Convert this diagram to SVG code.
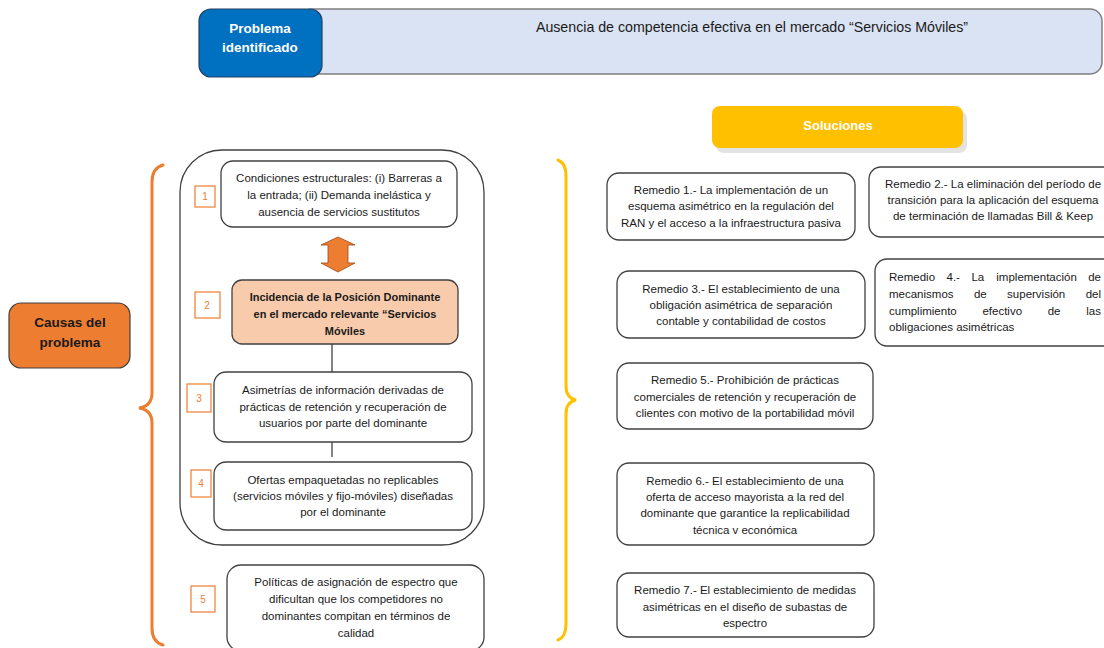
<svg xmlns="http://www.w3.org/2000/svg" width="1104" height="648" viewBox="0 0 1104 648">
<style>
text{font-family:"Liberation Sans",Arial,sans-serif;fill:#1a1a1a}
.t{font-size:11.5px;text-anchor:middle}
.w{font-size:11.5px}
.e{font-size:11.5px;text-anchor:end}
.b{font-weight:bold;font-size:11px}
.box{fill:#fff;stroke:#404040;stroke-width:1.3}
.num{fill:#fff;stroke:#ED7D31;stroke-width:1.2}
.nt{font-size:10px;fill:#ED7D31;text-anchor:middle}
.ln{stroke:#404040;stroke-width:1.3;fill:none}
</style>
<rect width="1104" height="648" fill="#fff"/>

<g id="problem-statement">
<rect x="300" y="9" width="802" height="65" rx="12" fill="#DAE3F3" stroke="#7f7f7f" stroke-width="1.5"/>
<text x="752" y="32" style="font-size:14.2px;text-anchor:middle">Ausencia de competencia efectiva en el mercado “Servicios Móviles”</text>
</g>
<g id="problema-identificado">
<rect x="199" y="9" width="123" height="68" rx="12" fill="#0070C0" stroke="#243f60" stroke-width="1.2"/>
<text x="260" y="33" style="font-weight:bold;font-size:13.5px;text-anchor:middle;fill:#fff">Problema</text>
<text x="260" y="52" style="font-weight:bold;font-size:13.5px;text-anchor:middle;fill:#fff">identificado</text>
</g>

<g id="causas">
<rect x="9" y="303" width="121" height="65" rx="12" fill="#ED7D31" stroke="#404040" stroke-width="1.2"/>
<text x="70" y="327" style="font-weight:bold;font-size:13.5px;text-anchor:middle">Causas del</text>
<text x="70" y="347" style="font-weight:bold;font-size:13.5px;text-anchor:middle">problema</text>
</g>

<g id="braces" fill="none" stroke-width="3" stroke-linecap="round">
<path d="M163,165 Q152,168 152,182 L152,393 Q152,406 139,408 Q152,410 152,423 L152,628 Q152,642 163,645" stroke="#ED7D31"/>
<path d="M558,160 Q566,163 566,176 L566,386 Q566,398 576,400 Q566,402 566,414 L566,624 Q566,637 558,640" stroke="#FFC000"/>
</g>

<g id="causas-container">
<rect x="180" y="150" width="304" height="395" rx="42" class="ln"/>
</g>

<g id="connectors">
<line x1="332" y1="344" x2="332" y2="372" class="ln"/>
<line x1="332" y1="442" x2="332" y2="457" class="ln"/>
<path d="M338,237 L355,245 L348,245 L348,263 L355,263 L338,272 L321,263 L328,263 L328,245 L321,245 Z" fill="#ED7D31" stroke="#9c4a14" stroke-width="0.8"/>
</g>

<g id="causa-1">
<rect x="221" y="161" width="236" height="66" rx="12" class="box"/>
<rect x="195" y="186" width="20" height="21" class="num"/>
<text x="205" y="200" class="nt">1</text>
<text x="339" y="182" class="t">Condiciones estructurales: (i) Barreras a</text>
<text x="339" y="199" class="t">la entrada; (ii) Demanda inelástica y</text>
<text x="339" y="216" class="t">ausencia de servicios sustitutos</text>
</g>

<g id="causa-2">
<rect x="232" y="280" width="226" height="64" rx="10" fill="#F8CBAD" stroke="#404040" stroke-width="1.3"/>
<rect x="195" y="292" width="25" height="26" class="num"/>
<text x="207" y="309" class="nt">2</text>
<text x="345" y="301" class="t b">Incidencia de la Posición Dominante</text>
<text x="345" y="318" class="t b">en el mercado relevante “Servicios</text>
<text x="345" y="335" class="t b">Móviles</text>
</g>

<g id="causa-3">
<rect x="214" y="372" width="258" height="70" rx="12" class="box"/>
<rect x="187" y="384" width="24" height="28" class="num"/>
<text x="199" y="402" class="nt">3</text>
<text x="343" y="394" class="t">Asimetrías de información derivadas de</text>
<text x="343" y="411" class="t">prácticas de retención y recuperación de</text>
<text x="343" y="427" class="t">usuarios por parte del dominante</text>
</g>

<g id="causa-4">
<rect x="214" y="462" width="258" height="68" rx="12" class="box"/>
<rect x="191" y="470" width="20" height="27" class="num"/>
<text x="201" y="487" class="nt">4</text>
<text x="343" y="484" class="t">Ofertas empaquetadas no replicables</text>
<text x="343" y="500" class="t">(servicios móviles y fijo-móviles) diseñadas</text>
<text x="343" y="516" class="t">por el dominante</text>
</g>

<g id="causa-5">
<rect x="227" y="565" width="257" height="86" rx="14" class="box"/>
<rect x="191" y="586" width="24" height="26" class="num"/>
<text x="203" y="603" class="nt">5</text>
<text x="356" y="586" class="t">Políticas de asignación de espectro que</text>
<text x="356" y="603" class="t">dificultan que los competidores no</text>
<text x="356" y="620" class="t">dominantes compitan en términos de</text>
<text x="356" y="637" class="t">calidad</text>
</g>

<g id="soluciones">
<rect x="716" y="111" width="251" height="42" rx="8" fill="#e3e3e3"/>
<rect x="712" y="106" width="251" height="42" rx="8" fill="#FFC000"/>
<text x="838" y="130" style="font-weight:bold;font-size:13px;text-anchor:middle;fill:#fff">Soluciones</text>
</g>

<g id="remedio-1">
<rect x="607" y="173" width="248" height="67" rx="12" class="box"/>
<text x="731" y="194" class="t">Remedio 1.- La implementación de un</text>
<text x="731" y="210" class="t">esquema asimétrico en la regulación del</text>
<text x="731" y="227" class="t">RAN y el acceso a la infraestructura pasiva</text>
</g>

<g id="remedio-2">
<rect x="869" y="167" width="250" height="70" rx="12" class="box"/>
<text x="993" y="188" class="t">Remedio 2.- La eliminación del período de</text>
<text x="993" y="204" class="t">transición para la aplicación del esquema</text>
<text x="993" y="220" class="t">de terminación de llamadas Bill &amp; Keep</text>
</g>

<g id="remedio-3">
<rect x="617" y="271" width="248" height="67" rx="12" class="box"/>
<text x="741" y="293" class="t">Remedio 3.- El establecimiento de una</text>
<text x="741" y="309" class="t">obligación asimétrica de separación</text>
<text x="741" y="325" class="t">contable y contabilidad de costos</text>
</g>

<g id="remedio-4">
<rect x="875" y="259" width="245" height="87" rx="12" class="box"/>
<text x="889" y="281" class="w">Remedio</text>
<text x="946.5" y="281" class="w">4.-</text>
<text x="971.4" y="281" class="w">La</text>
<text x="996.3" y="281" class="w">implementación</text>
<text x="1101" y="281" class="e">de</text>
<text x="889" y="298" class="w">mecanismos</text>
<text x="973.9" y="298" class="w">de</text>
<text x="1007.1" y="298" class="w">supervisión</text>
<text x="1101" y="298" class="e">del</text>
<text x="889" y="315" class="w">cumplimiento</text>
<text x="982.4" y="315" class="w">efectivo</text>
<text x="1047.7" y="315" class="w">de</text>
<text x="1101" y="315" class="e">las</text>
<text x="889" y="331" class="w">obligaciones asimétricas</text>
</g>

<g id="remedio-5">
<rect x="617" y="363" width="256" height="66" rx="12" class="box"/>
<text x="745" y="384" class="t">Remedio 5.- Prohibición de prácticas</text>
<text x="745" y="401" class="t">comerciales de retención y recuperación de</text>
<text x="745" y="417" class="t">clientes con motivo de la portabilidad móvil</text>
</g>

<g id="remedio-6">
<rect x="617" y="463" width="257" height="82" rx="12" class="box"/>
<text x="745" y="485" class="t">Remedio 6.- El establecimiento de una</text>
<text x="745" y="501" class="t">oferta de acceso mayorista a la red del</text>
<text x="745" y="517" class="t">dominante que garantice la replicabilidad</text>
<text x="745" y="534" class="t">técnica v económica</text>
</g>

<g id="remedio-7">
<rect x="617" y="573" width="257" height="64" rx="12" class="box"/>
<text x="745" y="594" class="t">Remedio 7.- El establecimiento de medidas</text>
<text x="745" y="611" class="t">asimétricas en el diseño de subastas de</text>
<text x="745" y="627" class="t">espectro</text>
</g>
</svg>
